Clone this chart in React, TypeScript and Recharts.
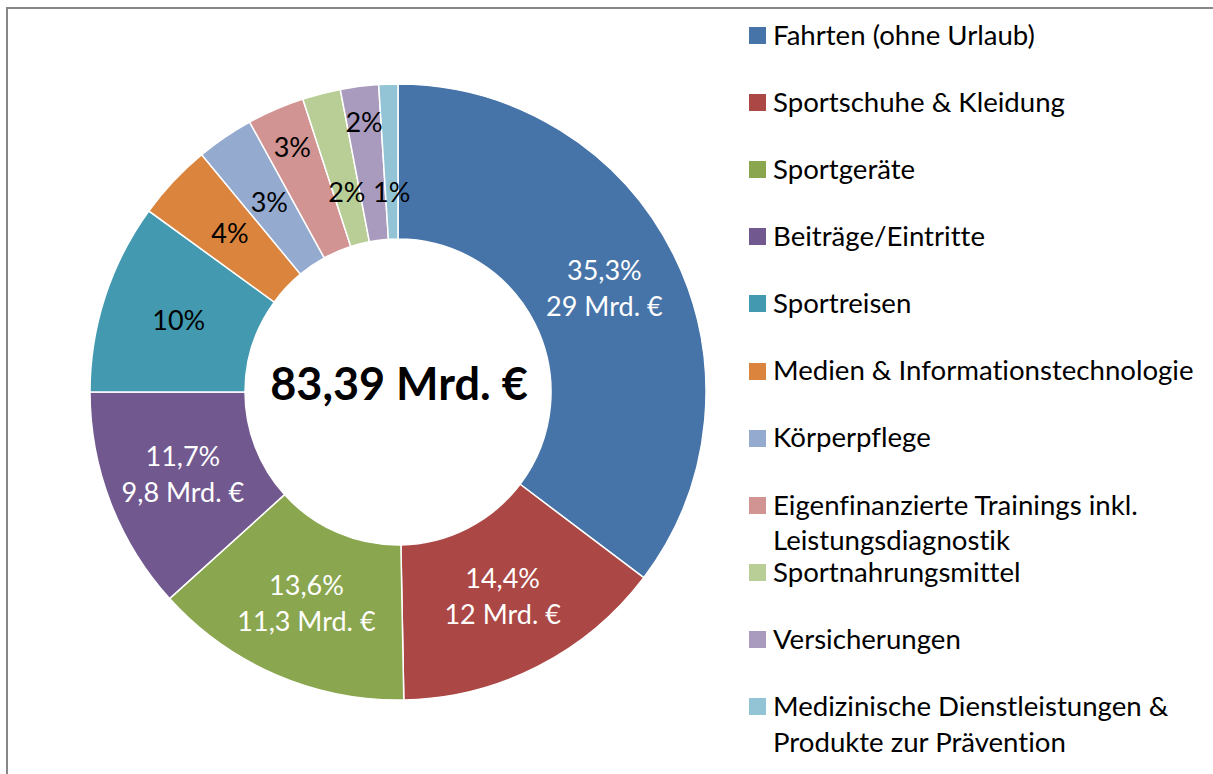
import { PieChart, Pie, Cell, Legend } from 'recharts';

// ---------------------------------------------------------------------------
// Data
// ---------------------------------------------------------------------------

const categories = [
  'Fahrten (ohne Urlaub)',
  'Sportschuhe & Kleidung',
  'Sportgeräte',
  'Beiträge/Eintritte',
  'Sportreisen',
  'Medien & Informationstechnologie',
  'Körperpflege',
  'Eigenfinanzierte Trainings inkl. Leistungsdiagnostik',
  'Sportnahrungsmittel',
  'Versicherungen',
  'Medizinische Dienstleistungen & Produkte zur Prävention',
];

// share in percent
const shares = [35.3, 14.4, 13.6, 11.7, 10, 4, 3, 3, 2, 2, 1];

// spending in Mrd. € (only shown for the large slices)
const amounts: (number | null)[] = [29, 12, 11.3, 9.8, null, null, null, null, null, null, null];

const totalLabel = '83,39 Mrd. €';

const colors = [
  '#4674a9', '#ab4744', '#8aa64f', '#71588f', '#4299b0', '#db843d',
  '#94aacf', '#d29493', '#b9cd97', '#a99bbd', '#92c4d6',
];

const data = categories.map((name, i) => ({
  name,
  value: shares[i],
  amount: amounts[i],
}));

// ---------------------------------------------------------------------------
// Helpers
// ---------------------------------------------------------------------------

const FONT = 'Lato, "Open Sans", sans-serif';
const RAD = Math.PI / 180;
const CX = 398;
const CY = 392;

const fmtNum = new Intl.NumberFormat('de-DE', { maximumFractionDigits: 1 });

// where inside the ring each label sits (0 = inner edge, 1 = outer edge),
// small slices are staggered like in the original
const labelDepth = [0.5, 0.5, 0.5, 0.5, 0.5, 0.5, 0.49, 0.73, 0.34, 0.76, 0.3];

function SliceLabel(props: any) {
  const { cx, cy, midAngle, innerRadius, outerRadius, index, payload } = props;
  const r = innerRadius + (outerRadius - innerRadius) * labelDepth[index];
  const x = cx + r * Math.cos(-midAngle * RAD);
  const y = cy + r * Math.sin(-midAngle * RAD);
  const pct = `${fmtNum.format(payload.value)}%`;
  const fill = index < 4 ? '#ffffff' : '#000000';
  const common = { x, textAnchor: 'middle' as const, fill, fontFamily: FONT, fontSize: 27 };

  if (payload.amount == null) {
    return <text {...common} y={y + 9}>{pct}</text>;
  }
  return (
    <g>
      <text {...common} y={y - 9}>{pct}</text>
      <text {...common} y={y + 27}>{`${fmtNum.format(payload.amount)} Mrd. €`}</text>
    </g>
  );
}

function LegendList({ payload }: any) {
  const items = [...(payload || [])].sort(
    (a: any, b: any) => categories.indexOf(a.value) - categories.indexOf(b.value),
  );
  return (
    <div style={{ position: 'relative', width: 460, height: 740, fontFamily: FONT }}>
      {items.map((p: any, i: number) => (
        <div key={p.value} style={{ position: 'absolute', left: 0, top: i * 67.1, width: 460 }}>
          <span
            style={{
              position: 'absolute', left: 0, top: 0, width: 17, height: 17,
              backgroundColor: p.color,
            }}
          />
          <div
            style={{
              position: 'absolute', left: 24, top: -10.2, width: 436,
              fontSize: 27.6, lineHeight: '35.7px', color: '#000000',
              fontVariantLigatures: 'none',
            }}
          >
            {p.value}
          </div>
        </div>
      ))}
    </div>
  );
}

// ---------------------------------------------------------------------------
// Component
// ---------------------------------------------------------------------------

export default function App() {
  return (
    <div
      style={{
        position: 'absolute', left: 0, top: 0, width: 1213, height: 774,
        overflow: 'hidden', background: '#ffffff',
      }}
    >
      <div
        style={{
          position: 'absolute', left: 6, top: 7, width: 1240, height: 800,
          border: '2px solid #878787', boxSizing: 'border-box',
        }}
      />
      <div style={{ position: 'absolute', left: 0, top: 0 }}>
        <PieChart width={1213} height={774} margin={{ top: 0, right: 0, bottom: 0, left: 0 }}>
          <Pie
            data={data}
            dataKey="value"
            nameKey="name"
            cx={CX}
            cy={CY}
            innerRadius={153}
            outerRadius={308}
            startAngle={90}
            endAngle={-270}
            stroke="#ffffff"
            strokeWidth={1.5}
            label={SliceLabel}
            labelLine={false}
            isAnimationActive={false}
          >
            {data.map((_, i) => (
              <Cell key={i} fill={colors[i]} />
            ))}
          </Pie>
          <text
            x={CX + 1}
            y={CY + 8}
            textAnchor="middle"
            fontFamily={FONT}
            fontSize={45}
            fontWeight={700}
            fill="#000000"
          >
            {totalLabel}
          </text>
          <Legend
            layout="vertical"
            align="right"
            verticalAlign="top"
            content={LegendList}
            wrapperStyle={{ left: 749, top: 27, width: 460 }}
          />
        </PieChart>
      </div>
    </div>
  );
}
